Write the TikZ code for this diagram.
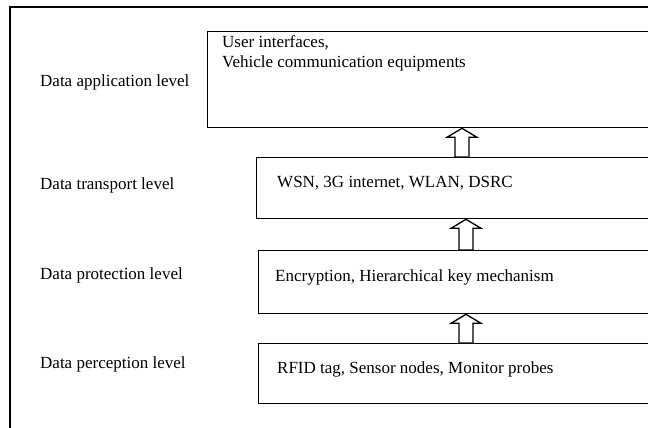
\documentclass[tikz,border=0pt]{standalone}
\usepackage{fontspec}
\setmainfont{Liberation Serif}
\tikzset{
  every picture/.style={x=1pt,y=-1pt},
  lvlbox/.style={draw,line width=1.3pt,anchor=north west,inner sep=0pt,minimum width=500pt},
  lbl/.style={anchor=base west,inner sep=0pt,font=\fontsize{17}{20}\selectfont,align=left},
  blk/.style={draw,line width=1.3pt,fill=white,line join=miter}
}
\newcommand\hollowup[2]{%
  \draw[blk] ([xshift=-7pt]#1) -- ([xshift=-7pt,yshift=-9pt]#2) -- ([xshift=-15pt,yshift=-9pt]#2) -- (#2)
    -- ([xshift=15pt,yshift=-9pt]#2) -- ([xshift=7pt,yshift=-9pt]#2) -- ([xshift=7pt]#1) -- cycle;}
\begin{document}
\begin{tikzpicture}
\useasboundingbox (0,0) rectangle (648,428);
\clip (0,0) rectangle (648,428);
\draw[line width=1.3pt] (10,7) rectangle (700,480);
% boxes
\node[lvlbox,minimum height=96pt] (b1) at (207,31) {};
\node[lvlbox,minimum height=61pt] (b2) at (256,157) {};
\node[lvlbox,minimum height=63pt] (b3) at (258,250) {};
\node[lvlbox,minimum height=60pt] (b4) at (258,343) {};
% left labels
\node[lbl] (l1) at (40,87) {Data application level};
\node[lbl] (l2) at (40,189) {Data transport level};
\node[lbl] (l3) at (40,279) {Data protection level};
\node[lbl] (l4) at (40,368) {Data perception level};
% box texts
\node[lbl] (t1) at (222,67) {User interfaces,\\Vehicle communication equipments};
\node[lbl] (t2) at (277,187) {WSN, 3G internet, WLAN, DSRC};
\node[lbl] (t3) at (275,281) {Encryption, Hierarchical key mechanism};
\node[lbl] (t4) at (277,373) {RFID tag, Sensor nodes, Monitor probes};
% arrows
\coordinate (x1) at (462,0);
\coordinate (x2) at (466,0);
\coordinate (x3) at (466,0);
\hollowup{b2.north west -| x1}{b1.south west -| x1}
\hollowup{b3.north west -| x2}{b2.south west -| x2}
\hollowup{b4.north west -| x3}{b3.south west -| x3}
\end{tikzpicture}
\end{document}
